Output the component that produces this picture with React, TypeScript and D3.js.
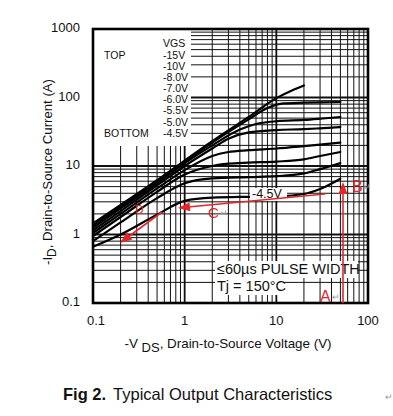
import React from 'react';
import * as d3 from 'd3';

// -VGS curves (V in volts, I in amps)
const vgsLabels = ['-15V', '-10V', '-8.0V', '-7.0V', '-6.0V', '-5.5V', '-5.0V', '-4.5V'];

const curve15 = [[0.1, 1.45], [0.2, 2.7], [0.5, 6.2], [1, 12], [2, 23], [5, 52], [10, 98], [15, 128], [20, 150]];
const curve10 = [[0.1, 1.35], [0.2, 2.55], [0.5, 5.9], [1, 11.5], [2, 22], [5, 48], [8, 70], [12, 82], [20, 84], [30, 85], [50, 86]];
const curve8 = [[0.1, 1.25], [0.2, 2.4], [0.5, 5.6], [1, 11], [2, 20], [4, 34], [6, 41], [10, 45], [20, 47], [30, 49], [50, 52]];
const curve7 = [[0.1, 1.15], [0.2, 2.2], [0.5, 5.2], [1, 10], [2, 18], [3, 25], [5, 31], [10, 33.5], [20, 34.5], [30, 35.5], [50, 37]];
const curve6 = [[0.1, 1.05], [0.2, 2.0], [0.5, 4.7], [1, 8.7], [2, 14], [3, 16], [5, 17], [10, 18], [20, 19.5], [30, 20.5], [50, 22]];
const curve55 = [[0.1, 0.95], [0.2, 1.8], [0.5, 4.2], [1, 7.5], [2, 10], [3, 10.8], [5, 11.2], [10, 11.6], [20, 12.5], [30, 14], [50, 16]];
const curve5 = [[0.1, 0.8], [0.2, 1.5], [0.5, 3.4], [1, 5.6], [2, 6.6], [5, 6.9], [10, 7.1], [20, 7.8], [30, 9], [50, 11]];
const curve45 = [[0.1, 0.66], [0.2, 1.0], [0.5, 1.95], [1, 3.1], [2, 3.45], [5, 3.55], [10, 3.6], [20, 3.9], [30, 4.6], [50, 6.5]];

const curves = [curve15, curve10, curve8, curve7, curve6, curve55, curve5, curve45];

const xTicks = [0.1, 1, 10, 100];
const yTicks = [0.1, 1, 10, 100, 1000];
const xTickLabels = ['0.1', '1', '10', '100'];
const yTickLabels = ['0.1', '1', '10', '100', '1000'];

const font = "Arial, 'Liberation Sans', sans-serif";
const red = '#e3262a';

function minorValues(decades: number[], last: number) {
  const out: number[] = [];
  decades.forEach(d => {
    for (let k = 1; k <= 9; k++) out.push(d * k);
  });
  out.push(last);
  return out;
}

export default function App() {
  const width = 393;
  const height = 416;
  const left = 93, right = 368, top = 29, bottom = 303;

  const x = d3.scaleLog().domain([0.1, 100]).range([left, right]);
  const y = d3.scaleLog().domain([0.1, 1000]).range([bottom, top]);

  const line = d3.line<number[]>()
    .x(d => x(d[0]))
    .y(d => y(d[1]))
    .curve(d3.curveMonotoneX);

  const xGrid = minorValues([0.1, 1, 10], 100);
  const yGrid = minorValues([0.1, 1, 10, 100], 1000);
  const isMajor = (v: number) => Math.abs(Math.log10(v) - Math.round(Math.log10(v))) < 1e-6;

  const legendY = [56, 67, 78, 89, 100, 111, 123, 134];

  const arrowHead = (tx: number, ty: number, fx: number, fy: number, len = 10, half = 4.5) => {
    const a = Math.atan2(ty - fy, tx - fx);
    const bx = tx - len * Math.cos(a), by = ty - len * Math.sin(a);
    const px = -Math.sin(a) * half, py = Math.cos(a) * half;
    return `M${tx},${ty}L${bx + px},${by + py}L${bx - px},${by - py}Z`;
  };

  return (
    <svg width={width} height={height} style={{ position: 'absolute', left: 0, top: 0 }}>
      <rect width={width} height={height} fill="#fff" />

      {/* grid */}
      <g stroke="#111">
        {xGrid.map((v, i) => (
          <line key={'gx' + i} x1={x(v)} x2={x(v)} y1={top} y2={bottom} strokeWidth={isMajor(v) ? 1.8 : 1} />
        ))}
        {yGrid.map((v, i) => (
          <line key={'gy' + i} x1={left} x2={right} y1={y(v)} y2={y(v)} strokeWidth={isMajor(v) ? 1.8 : 1} />
        ))}
      </g>

      {/* legend area is blank */}
      <rect x={left} y={top} width={98} height={117} fill="#fff" />

      {/* frame */}
      <rect x={left} y={top} width={right - left} height={bottom - top} fill="none" stroke="#000" strokeWidth={2.6} />

      {/* curves */}
      <g fill="none" stroke="#000" strokeWidth={2.2} strokeLinecap="round">
        {curves.map((c, i) => (
          <path key={'c' + i} d={line(c) || ''} />
        ))}
      </g>

      {/* legend */}
      <g fontFamily={font} fontSize={10.5} fill="#111">
        <text x={163} y={44} dominantBaseline="middle">VGS</text>
        <text x={104} y={56} dominantBaseline="middle">TOP</text>
        <text x={104} y={134} dominantBaseline="middle">BOTTOM</text>
        {vgsLabels.map((s, i) => (
          <text key={'l' + i} x={163} y={legendY[i]} dominantBaseline="middle">{s}</text>
        ))}
      </g>

      {/* tick labels */}
      <g fontFamily={font} fontSize={13} fill="#111">
        {yTicks.map((v, i) => (
          <text key={'yt' + i} x={80} y={y(v)} textAnchor="end" dominantBaseline="middle">{yTickLabels[i]}</text>
        ))}
        {xTicks.map((v, i) => (
          <text key={'xt' + i} x={x(v) + (i === 0 ? 3 : 0)} y={322} textAnchor="middle" dominantBaseline="middle">{xTickLabels[i]}</text>
        ))}
      </g>

      {/* axis titles */}
      <text fontFamily={font} fontSize={13.2} fill="#111" transform="translate(52,172) rotate(-90)" textAnchor="middle">
        -I<tspan dy={4} fontSize={12}>D</tspan><tspan dy={-4}>, Drain-to-Source Current (A)</tspan>
      </text>
      <text fontFamily={font} fontSize={13.4} fill="#111" x={228} y={348} textAnchor="middle">
        -V <tspan dy={4} fontSize={13}>DS</tspan><tspan dy={-4}>, Drain-to-Source Voltage (V)</tspan>
      </text>

      {/* in-plot notes */}
      <rect x={250} y={188} width={37} height={13} fill="#fff" />
      <text fontFamily={font} fontSize={12.5} fill="#111" x={252} y={195} dominantBaseline="middle">-4.5V</text>

      <rect x={215} y={261} width={143} height={17} fill="#fff" />
      <rect x={215} y={278} width={68} height={17} fill="#fff" />
      <text fontFamily={font} fontSize={14.5} fill="#111" x={217} y={270} dominantBaseline="middle">≤60µs PULSE WIDTH</text>
      <text fontFamily={font} fontSize={14.5} fill="#111" x={217} y={287} dominantBaseline="middle">Tj = 150°C</text>

      {/* red annotations */}
      <g stroke={red} fill={red} strokeWidth={1.6}>
        <line x1={343} y1={bottom} x2={343} y2={192} />
        <path d={arrowHead(343, 182, 343, 200, 12, 4.5)} stroke="none" />
        <line x1={325} y1={194} x2={188} y2={207} />
        <path d={arrowHead(178, 208, 325, 194, 12, 4.5)} stroke="none" />
        <line x1={162} y1={212} x2={128} y2={237} />
        <path d={arrowHead(120, 243, 162, 212, 12, 4.5)} stroke="none" />
      </g>
      <g fontFamily={font} fill={red}>
        <text x={320} y={302} fontSize={16}>A</text>
        <text x={352} y={192} fontSize={16}>B</text>
        <text x={208} y={218} fontSize={15}>C</text>
        <text x={135} y={214} fontSize={12}>D</text>
      </g>
      <g fontFamily={font} fill="#999" fontSize={9}>
        <text x={332} y={300}>↵</text>
        <text x={363} y={190}>↵</text>
        <text x={220} y={216}>↵</text>
        <text x={385} y={400}>↵</text>
      </g>

      {/* figure caption */}
      <text fontFamily={font} fontSize={16.5} fill="#111" x={63} y={400}>
        <tspan fontWeight="bold">Fig 2.</tspan><tspan dx={7}>Typical Output Characteristics</tspan>
      </text>
    </svg>
  );
}
